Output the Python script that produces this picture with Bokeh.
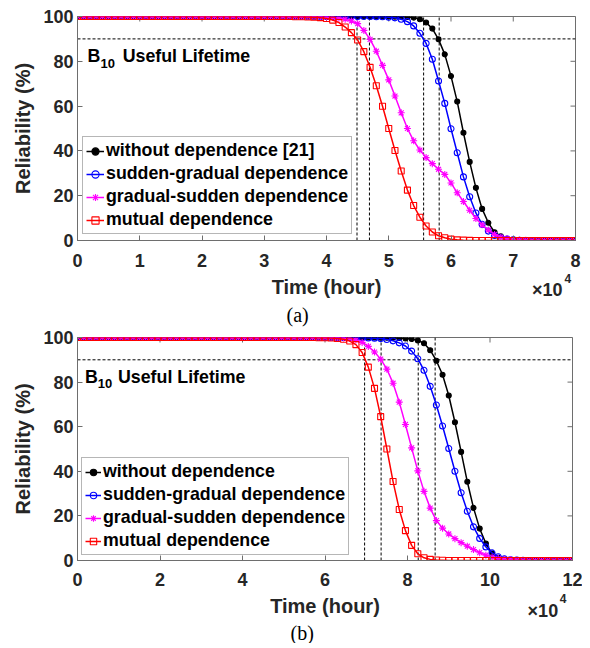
import math
from bokeh.plotting import figure
from bokeh.models import Range1d, FixedTicker, Label, Legend, LegendItem, Title, LinearAxis
from bokeh.layouts import column
from bokeh.embed import file_html
from bokeh.resources import INLINE

# ---------------- data ----------------
time_a = list(range(0, 80001, 1000))      # hours
time_b = list(range(0, 120001, 1500))     # hours

without_a = [
    100, 100, 100, 100, 100, 100, 100, 100, 100, 100,
    100, 100, 100, 100, 100, 100, 100, 100, 100, 100,
    100, 100, 100, 100, 100, 100, 100, 100, 100, 100,
    100, 100, 100, 100, 100, 100, 100, 100, 100, 100,
    100, 100, 100, 100, 100, 100, 100, 100, 100, 100,
    100, 99.9, 99.9, 99.8, 99.5, 98.8, 97.3, 94.6, 89.8, 83.1,
    73.4, 62.0, 48.1, 35.1, 23.5, 14.1, 7.9, 3.7, 1.9, 0.8,
    0.4, 0.2, 0.1, 0, 0, 0, 0, 0, 0, 0,
    0]
sudden_gradual_a = [
    100, 100, 100, 100, 100, 100, 100, 100, 100, 100,
    100, 100, 100, 100, 100, 100, 100, 100, 100, 100,
    100, 100, 100, 100, 100, 100, 100, 100, 100, 100,
    100, 100, 100, 100, 100, 100, 100, 100, 100, 100,
    100, 100, 100, 100, 100, 100, 100, 100, 99.9, 99.9,
    99.7, 99.4, 98.8, 97.7, 95.8, 92.5, 88.0, 80.9, 71.2, 61.2,
    49.9, 39.2, 28.4, 19.5, 12.3, 7.2, 4.2, 2.2, 1.2, 0.6,
    0.3, 0.1, 0, 0, 0, 0, 0, 0, 0, 0,
    0]
gradual_sudden_a = [
    100, 100, 100, 100, 100, 100, 100, 100, 100, 100,
    100, 100, 100, 100, 100, 100, 100, 100, 100, 100,
    100, 100, 100, 100, 100, 100, 100, 100, 100, 100,
    100, 100, 100, 100, 100, 100, 100, 100, 100, 99.9,
    99.8, 99.6, 99.3, 98.8, 98.0, 96.8, 93.8, 89.8, 84.5, 78.2,
    71.7, 64.5, 57.0, 50.0, 44.5, 40.4, 37.0, 34.3, 31.8, 29.5,
    25.7, 21.3, 17.4, 13.5, 9.8, 7.0, 4.7, 2.7, 1.5, 0.8,
    0.4, 0.2, 0.1, 0, 0, 0, 0, 0, 0, 0,
    0]
mutual_a = [
    100, 100, 100, 100, 100, 100, 100, 100, 100, 100,
    100, 100, 100, 100, 100, 100, 100, 100, 100, 100,
    100, 100, 100, 100, 100, 100, 100, 100, 100, 100,
    100, 100, 100, 100, 100, 99.9, 99.9, 99.8, 99.7, 99.5,
    99.1, 98.4, 97.3, 95.3, 92.8, 89.5, 84.3, 77.3, 69.1, 59.9,
    50.0, 40.2, 31.0, 22.5, 15.6, 10.4, 6.5, 3.8, 2.1, 1.2,
    0.6, 0.3, 0.15, 0.05, 0, 0, 0, 0, 0, 0,
    0, 0, 0, 0, 0, 0, 0, 0, 0, 0,
    0]

without_b = [
    100, 100, 100, 100, 100, 100, 100, 100, 100, 100,
    100, 100, 100, 100, 100, 100, 100, 100, 100, 100,
    100, 100, 100, 100, 100, 100, 100, 100, 100, 100,
    100, 100, 100, 100, 100, 100, 100, 100, 100, 100,
    100, 100, 100, 100, 100, 100, 100, 100, 100, 99.9,
    99.9, 99.9, 99.8, 99.6, 99.3, 98.7, 97.4, 94.3, 89.6, 83.3,
    74.0, 62.0, 48.7, 35.3, 23.6, 14.3, 7.6, 3.1, 1.2, 0.4,
    0.1, 0, 0, 0, 0, 0, 0, 0, 0, 0,
    0]
sudden_gradual_b = [
    100, 100, 100, 100, 100, 100, 100, 100, 100, 100,
    100, 100, 100, 100, 100, 100, 100, 100, 100, 100,
    100, 100, 100, 100, 100, 100, 100, 100, 100, 100,
    100, 100, 100, 100, 100, 100, 100, 100, 100, 100,
    100, 100, 100, 100, 100, 99.9, 99.9, 99.8, 99.7, 99.5,
    99.1, 98.5, 97.6, 96.2, 93.9, 90.5, 85.3, 78.1, 69.7, 60.3,
    50.2, 40.0, 30.4, 22.1, 15.1, 9.9, 6.1, 3.4, 1.7, 0.8,
    0.35, 0.15, 0.05, 0, 0, 0, 0, 0, 0, 0,
    0]
gradual_sudden_b = [
    100, 100, 100, 100, 100, 100, 100, 100, 100, 100,
    100, 100, 100, 100, 100, 100, 100, 100, 100, 100,
    100, 100, 100, 100, 100, 100, 100, 100, 100, 100,
    100, 100, 100, 100, 100, 100, 100, 100, 100, 100,
    100, 100, 99.9, 99.8, 99.5, 98.9, 97.8, 96.0, 93.5, 90.3,
    85.8, 79.5, 71.0, 61.0, 50.5, 40.2, 31.0, 23.5, 17.9, 14.5,
    11.9, 9.8, 8.0, 6.4, 4.9, 3.5, 2.4, 1.5, 0.9, 0.5,
    0.3, 0.15, 0.05, 0, 0, 0, 0, 0, 0, 0,
    0]
mutual_b = [
    100, 100, 100, 100, 100, 100, 100, 100, 100, 100,
    100, 100, 100, 100, 100, 100, 100, 100, 100, 100,
    100, 100, 100, 100, 100, 100, 100, 100, 100, 100,
    100, 100, 100, 100, 100, 100, 100, 100, 100, 99.9,
    99.9, 99.8, 99.6, 99.2, 98.4, 96.8, 93.3, 86.7, 77.2, 64.5,
    50.0, 35.4, 22.9, 13.4, 6.8, 3.0, 1.2, 0.5, 0.2, 0.1,
    0, 0, 0, 0, 0, 0, 0, 0, 0, 0,
    0, 0, 0, 0, 0, 0, 0, 0, 0, 0,
    0]

b10_level = 90
b10_a = [44900, 46900, 55600, 58100]
b10_b = [69600, 73600, 82600, 86700]

xticks_a = [0, 10000, 20000, 30000, 40000, 50000, 60000, 70000, 80000]
xtick_labels_a = ["0", "1", "2", "3", "4", "5", "6", "7", "8"]
xticks_b = [0, 20000, 40000, 60000, 80000, 100000, 120000]
xtick_labels_b = ["0", "2", "4", "6", "8", "10", "12"]
yticks = [0, 20, 40, 60, 80, 100]
multiplier_base = "\u00d710"
multiplier_exp = "4"

labels_a = ["without dependence [21]", "sudden-gradual dependence",
            "gradual-sudden dependence", "mutual dependence"]
labels_b = ["without dependence", "sudden-gradual dependence",
            "gradual-sudden dependence", "mutual dependence"]

# ---------------- styling ----------------
FONT = "Liberation Sans"
SERIF = "Liberation Serif"
AXC = "#6e6e6e"
TXT = "#262626"
styles = [
    dict(color="#000000", marker="circle", size=5, fill=True),
    dict(color="#0000ff", marker="circle", size=6, fill=False),
    dict(color="#ff00ff", marker="asterisk", size=7, fill=False),
    dict(color="#ff0000", marker="square", size=6, fill=False),
]


def style_axis(ax):
    ax.axis_line_color = AXC
    ax.axis_line_width = 1
    ax.major_tick_line_color = AXC
    ax.major_tick_in = 5
    ax.major_tick_out = 0
    ax.minor_tick_line_color = None
    ax.major_label_text_font = FONT
    ax.major_label_text_font_style = "bold"
    ax.major_label_text_font_size = "18px"
    ax.major_label_text_color = TXT
    ax.axis_label_text_font = FONT
    ax.axis_label_text_font_style = "bold"
    ax.axis_label_text_font_size = "20px"
    ax.axis_label_text_color = TXT


def text_axis(x, text, size, standoff):
    """A bare bottom axis with a single tick label, used to place texts below the frame."""
    ax = LinearAxis(ticker=FixedTicker(ticks=[x]), major_label_overrides={x: text})
    style_axis(ax)
    ax.axis_line_color = None
    ax.major_tick_line_color = None
    ax.major_tick_in = 0
    ax.major_label_text_font_size = size
    ax.major_label_standoff = standoff
    return ax


def make_panel(t, series, b10, xmax, xticks, xtick_labels, labels, caption, cfg):
    fw, fh = cfg["fw"], cfg["fh"]
    p = figure(frame_width=fw, frame_height=fh,
               min_border_left=cfg["mbl"], min_border_right=cfg["mbr"],
               min_border_top=cfg["mbt"], min_border_bottom=cfg["mbb"],
               x_range=Range1d(0, xmax), y_range=Range1d(0, 100),
               output_backend="svg", toolbar_location=None, tools="")
    p.background_fill_color = "white"
    p.border_fill_color = "white"
    p.outline_line_color = AXC
    p.outline_line_width = 1
    p.xgrid.visible = False
    p.ygrid.visible = False

    p.xaxis.ticker = FixedTicker(ticks=xticks)
    p.xaxis.major_label_overrides = {k: v for k, v in zip(xticks, xtick_labels)}
    p.yaxis.ticker = FixedTicker(ticks=yticks)
    for ax in p.axis:
        style_axis(ax)
    p.xaxis.major_label_standoff = cfg["xstand"]
    p.yaxis.major_label_standoff = 4
    p.yaxis.axis_label = "Reliability (%)"
    p.yaxis.axis_label_standoff = 6

    # exponent "4" of the x10^4 multiplier
    p.add_layout(text_axis(cfg["exp_x"], multiplier_exp, "12px", cfg["exp_stand"]), "below")
    # "x10" of the multiplier, plus the axis title
    mult_axis = text_axis(cfg["mult_x"], multiplier_base, "18px", cfg["mult_stand"])
    mult_axis.axis_label = "Time (hour)"
    mult_axis.axis_label_standoff = cfg["xlab_stand"]
    p.add_layout(mult_axis, "below")

    sx = xmax / fw
    sy = 100.0 / fh

    # mirrored tick marks on the top and right edges of the box
    p.segment(x0=xticks, y0=[100] * len(xticks), x1=xticks, y1=[100 - 5 * sy] * len(xticks),
              line_color=AXC, line_width=1)
    p.segment(x0=[xmax] * len(yticks), y0=yticks, x1=[xmax - 5 * sx] * len(yticks), y1=yticks,
              line_color=AXC, line_width=1)

    # B10 reference lines
    p.line([0, xmax], [b10_level, b10_level], line_color="black",
           line_width=1, line_dash="3 2")
    p.segment(x0=b10, y0=[0] * len(b10), x1=b10, y1=[100] * len(b10),
              line_color="black", line_width=1, line_dash="3 2")

    items = []
    for vals, st, lab in zip(series, styles, labels):
        r1 = p.line(t, vals, line_color=st["color"], line_width=1.5)
        r2 = p.scatter(t, vals, marker=st["marker"], size=st["size"],
                       line_color=st["color"], line_width=1.1,
                       fill_color=st["color"] if st["fill"] else None)
        items.append(LegendItem(label=lab, renderers=[r1, r2]))

    leg = Legend(items=items, location=cfg["leg_loc"])
    leg.label_text_font = FONT
    leg.label_text_font_style = "bold"
    leg.label_text_font_size = "17.8px"
    leg.label_text_color = "black"
    leg.label_height = 20
    leg.glyph_height = 20
    leg.glyph_width = cfg["glyph_w"]
    leg.label_standoff = 2
    leg.padding = 3
    leg.spacing = 2
    leg.margin = 0
    leg.border_line_color = AXC
    leg.border_line_width = 1
    leg.background_fill_alpha = 1.0
    p.add_layout(leg, "center")

    # caption below the axes
    p.add_layout(Title(text=caption, align="left", offset=cfg["cap_off"],
                       standoff=cfg["cap_stand"], text_font=SERIF,
                       text_font_style="normal", text_font_size="20px",
                       text_color="black"), "below")

    # B10 Useful Lifetime text inside the frame
    for text, (dx, dy), size in (("B", cfg["B"], "17.8px"), ("10", cfg["sub"], "13px"),
                                 ("Useful Lifetime", cfg["UL"], "17.8px")):
        p.add_layout(Label(x=dx * sx, y=dy * sy, text=text, text_font=FONT,
                           text_font_style="bold", text_font_size=size,
                           text_color="black", text_baseline="alphabetic"))
    return p


cfg_a = dict(fw=498, fh=224, mbl=77, mbr=7, mbt=16, mbb=88, xstand=13,
             exp_x=78750, exp_stand=4, mult_x=75450, mult_stand=-6, xlab_stand=-27,
             leg_loc=(5, 6), glyph_w=18, cap_off=209, cap_stand=3,
             B=(10, 184.5), sub=(23, 176.7), UL=(45.2, 184.5))
cfg_b = dict(fw=495, fh=223, mbl=73, mbr=14, mbt=9, mbb=80, xstand=12,
             exp_x=117700, exp_stand=5, mult_x=112820, mult_stand=-5, xlab_stand=-29,
             leg_loc=(4, 5), glyph_w=16, cap_off=213, cap_stand=0,
             B=(7.5, 183.5), sub=(20.3, 176.7), UL=(40.5, 184))

pa = make_panel(time_a, [without_a, sudden_gradual_a, gradual_sudden_a, mutual_a], b10_a,
                80000, xticks_a, xtick_labels_a, labels_a, "(a)", cfg_a)
pb = make_panel(time_b, [without_b, sudden_gradual_b, gradual_sudden_b, mutual_b], b10_b,
                120000, xticks_b, xtick_labels_b, labels_b, "(b)", cfg_b)

layout = column(pa, pb, spacing=0)
open("out.html", "w").write(file_html(layout, INLINE))
